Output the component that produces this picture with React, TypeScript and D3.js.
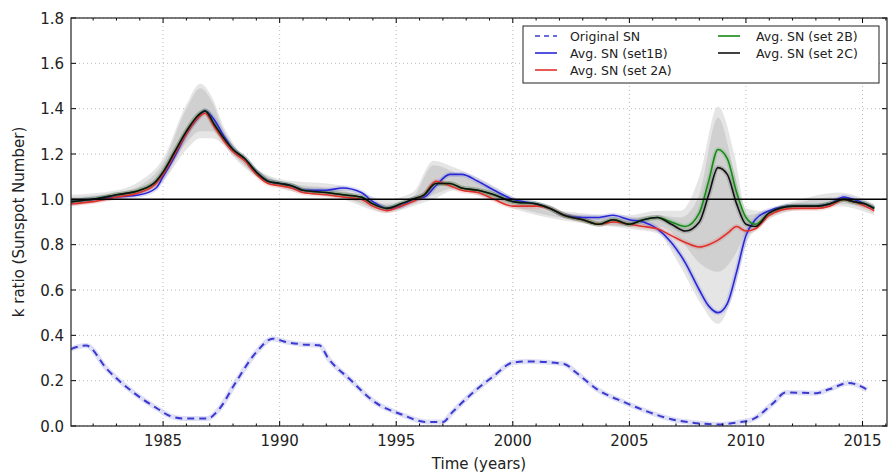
import React from 'react';
import * as d3 from 'd3';

// years shared by the averaged series
const years = [1981.05, 1982, 1983, 1984, 1984.7, 1985, 1985.5, 1986, 1986.5, 1986.8, 1987.2, 1987.6, 1988, 1988.5, 1989, 1989.5, 1990, 1990.5, 1991, 1992, 1992.7, 1993.5, 1994, 1994.6, 1995.2, 1995.7, 1996.2, 1996.7, 1997.3, 1997.8, 1998.5, 1999.2, 2000, 2001, 2001.6, 2002.2, 2003, 2003.7, 2004.3, 2005, 2005.6, 2006.2, 2006.8, 2007.4, 2008, 2008.4, 2008.8, 2009.2, 2009.6, 2010, 2010.4, 2011, 2012, 2013, 2013.6, 2014.2, 2014.6, 2015.1, 2015.5];

const set1B = [0.99, 1.0, 1.01, 1.02, 1.05, 1.1, 1.19, 1.29, 1.36, 1.39, 1.35, 1.28, 1.22, 1.18, 1.12, 1.08, 1.07, 1.06, 1.04, 1.04, 1.05, 1.03, 0.99, 0.96, 0.97, 1.0, 1.01, 1.06, 1.11, 1.11, 1.08, 1.04, 1.0, 0.98, 0.96, 0.93, 0.92, 0.92, 0.93, 0.91, 0.9, 0.87, 0.81, 0.72, 0.6, 0.53, 0.5, 0.54, 0.68, 0.84, 0.91, 0.95, 0.97, 0.97, 0.98, 1.01, 1.0, 0.98, 0.96];
const set2A = [0.98, 0.99, 1.01, 1.03, 1.07, 1.11, 1.2, 1.29, 1.36, 1.38, 1.32, 1.26, 1.21, 1.17, 1.11, 1.07, 1.06, 1.05, 1.03, 1.02, 1.01, 1.0, 0.97, 0.95, 0.97, 0.99, 1.02, 1.08, 1.06, 1.04, 1.03, 1.0, 0.97, 0.97, 0.96, 0.93, 0.91, 0.89, 0.9, 0.89, 0.88, 0.87, 0.84, 0.81, 0.79, 0.8, 0.82, 0.85, 0.88, 0.86, 0.87, 0.93, 0.96, 0.96, 0.97, 1.0, 0.99, 0.97, 0.95];
const set2B = [0.99, 1.0, 1.02, 1.04, 1.08, 1.12, 1.21, 1.3, 1.37, 1.39, 1.33, 1.27, 1.22, 1.18, 1.12, 1.08, 1.07, 1.06, 1.04, 1.03, 1.02, 1.01, 0.98, 0.96, 0.98, 1.0, 1.02, 1.07, 1.07, 1.05, 1.04, 1.02, 0.99, 0.98, 0.96, 0.93, 0.91, 0.89, 0.91, 0.89, 0.91, 0.92, 0.9, 0.88, 0.94, 1.08, 1.22, 1.18, 1.03, 0.92, 0.89, 0.94, 0.97, 0.97, 0.98, 1.0, 0.99, 0.98, 0.96];
const set2C = [0.99, 1.0, 1.02, 1.04, 1.08, 1.12, 1.21, 1.3, 1.37, 1.39, 1.33, 1.27, 1.22, 1.18, 1.12, 1.08, 1.07, 1.06, 1.04, 1.03, 1.02, 1.01, 0.98, 0.96, 0.98, 1.0, 1.02, 1.07, 1.07, 1.05, 1.04, 1.02, 0.99, 0.98, 0.96, 0.93, 0.91, 0.89, 0.91, 0.89, 0.91, 0.92, 0.89, 0.86, 0.9, 1.02, 1.14, 1.11, 0.98, 0.89, 0.88, 0.94, 0.97, 0.97, 0.98, 1.0, 0.99, 0.98, 0.96];

// spread of the ensemble (grey shading)
const bandYears = [1981.05, 1983, 1984, 1985, 1986, 1986.6, 1987.1, 1987.6, 1988, 1990, 1992.7, 1994.6, 1995.7, 1996.6, 1997.5, 1999, 2000, 2002, 2005, 2006.2, 2007.2, 2008, 2008.8, 2009.5, 2010, 2010.6, 2012, 2014, 2015.5];
const outerLow = [0.97, 1.0, 1.02, 1.08, 1.22, 1.27, 1.27, 1.24, 1.19, 1.05, 1.0, 0.94, 0.97, 1.0, 1.04, 1.0, 0.96, 0.91, 0.87, 0.85, 0.7, 0.55, 0.45, 0.6, 0.8, 0.88, 0.95, 0.97, 0.93];
const outerHigh = [1.02, 1.04, 1.08, 1.18, 1.42, 1.51, 1.45, 1.32, 1.25, 1.09, 1.06, 1.0, 1.03, 1.17, 1.14, 1.07, 1.01, 0.95, 0.93, 0.95, 0.95, 1.1, 1.41, 1.2, 0.96, 0.95, 0.99, 1.03, 0.98];
const innerLow = [0.98, 1.01, 1.03, 1.1, 1.25, 1.3, 1.3, 1.25, 1.2, 1.06, 1.01, 0.95, 0.98, 1.02, 1.05, 1.01, 0.97, 0.92, 0.88, 0.88, 0.82, 0.72, 0.68, 0.75, 0.85, 0.9, 0.96, 0.98, 0.95];
const innerHigh = [1.01, 1.03, 1.06, 1.16, 1.4, 1.49, 1.43, 1.3, 1.24, 1.08, 1.04, 0.98, 1.01, 1.15, 1.12, 1.05, 1.0, 0.94, 0.92, 0.93, 0.92, 1.02, 1.36, 1.12, 0.93, 0.94, 0.98, 1.01, 0.97];

// original sunspot number (scaled)
const snYears = [1981.05, 1981.7, 1982.6, 1983.7, 1984.8, 1985.3, 1985.9, 1986.9, 1987.4, 1988.1, 1989.0, 1989.7, 1990.3, 1991.0, 1991.7, 1992.1, 1993.0, 1994.1, 1995.2, 1996.3, 1997.0, 1997.4, 1998.3, 1999.2, 2000.0, 2000.7, 2002.2, 2002.7, 2003.6, 2004.8, 2005.9, 2006.8, 2007.7, 2008.8, 2009.6, 2010.3, 2011.2, 2011.7, 2013.0, 2013.6, 2014.4, 2015.2];
const snValues = [0.34, 0.355, 0.25, 0.15, 0.074, 0.044, 0.033, 0.033, 0.074, 0.19, 0.326, 0.385, 0.37, 0.36, 0.356, 0.296, 0.207, 0.104, 0.052, 0.018, 0.018, 0.06, 0.148, 0.222, 0.28, 0.285, 0.274, 0.237, 0.163, 0.104, 0.059, 0.03, 0.015, 0.007, 0.015, 0.03, 0.104, 0.148, 0.145, 0.163, 0.19, 0.16];

const xTicks = [1985, 1990, 1995, 2000, 2005, 2010, 2015];
const yTicks = [0.0, 0.2, 0.4, 0.6, 0.8, 1.0, 1.2, 1.4, 1.6, 1.8];

const series = [
  { name: 'Avg. SN (set1B)', values: set1B, color: '#2727d8' },
  { name: 'Avg. SN (set 2A)', values: set2A, color: '#e0302a' },
  { name: 'Avg. SN (set 2B)', values: set2B, color: '#168a16' },
  { name: 'Avg. SN (set 2C)', values: set2C, color: '#111111' },
];

const W = 895, H = 474;
const left = 71, right = 887, top = 18, bottom = 426;
const font = 'DejaVu Sans, sans-serif';

export default function App() {
  const x = d3.scaleLinear().domain([1981.05, 2016.05]).range([left, right]);
  const y = d3.scaleLinear().domain([0, 1.8]).range([bottom, top]);

  const line = d3.line<number>().curve(d3.curveMonotoneX);
  const mkLine = (xs: number[], vs: number[]) =>
    line.x((_, i) => x(xs[i])).y(v => y(v))(vs) || '';
  const mkArea = (lo: number[], hi: number[]) =>
    d3.area<number>()
      .curve(d3.curveMonotoneX)
      .x((_, i) => x(bandYears[i]))
      .y0((_, i) => y(lo[i]))
      .y1(v => y(v))(hi) || '';

  const minorYears = d3.range(1982, 2017);

  const legend = [
    { name: 'Original SN', color: '#3a3ad0', dash: '5,4', col: 0, row: 0 },
    { name: 'Avg. SN (set1B)', color: series[0].color, col: 0, row: 1 },
    { name: 'Avg. SN (set 2A)', color: series[1].color, col: 0, row: 2 },
    { name: 'Avg. SN (set 2B)', color: series[2].color, col: 1, row: 0 },
    { name: 'Avg. SN (set 2C)', color: series[3].color, col: 1, row: 1 },
  ];

  return (
    <div style={{ position: 'fixed', left: 0, top: 0, background: '#fff' }}>
      <svg width={W} height={H} style={{ display: 'block', fontFamily: font }}>
        <rect width={W} height={H} fill="#fff" />
        <defs>
          <clipPath id="plot">
            <rect x={left} y={top} width={right - left} height={bottom - top} />
          </clipPath>
        </defs>

        {/* grid */}
        {xTicks.map(t => (
          <line key={'gx' + t} x1={x(t)} x2={x(t)} y1={top} y2={bottom} stroke="#bbb" strokeDasharray="1,3" />
        ))}
        {yTicks.map(t => (
          <line key={'gy' + t} x1={left} x2={right} y1={y(t)} y2={y(t)} stroke="#bbb" strokeDasharray="1,3" />
        ))}

        <g clipPath="url(#plot)">
          <path d={mkArea(outerLow, outerHigh)} fill="#e2e2e2" opacity={0.9} />
          <path d={mkArea(innerLow, innerHigh)} fill="#c8c8c8" opacity={0.7} />

          <path d={mkLine(snYears, snValues)} fill="none" stroke="#c8c8f0" strokeWidth={5} opacity={0.6} />
          <path d={mkLine(snYears, snValues)} fill="none" stroke="#3a3ad0" strokeWidth={2} strokeDasharray="7,5" />

          {series.map(s => (
            <path key={s.name + 'h'} d={mkLine(years, s.values)} fill="none" stroke={s.color} strokeWidth={5} opacity={0.15} />
          ))}
          {series.map(s => (
            <path key={s.name} d={mkLine(years, s.values)} fill="none" stroke={s.color} strokeWidth={1.6} />
          ))}

          <line x1={left} x2={right} y1={y(1)} y2={y(1)} stroke="#000" strokeWidth={1.5} />
        </g>

        {/* ticks */}
        {xTicks.map(t => (
          <g key={'tx' + t}>
            <line x1={x(t)} x2={x(t)} y1={bottom} y2={bottom - 5} stroke="#000" />
            <line x1={x(t)} x2={x(t)} y1={top} y2={top + 5} stroke="#000" />
            <text x={x(t)} y={446} fontSize={15} textAnchor="middle" fill="#222">{t}</text>
          </g>
        ))}
        {minorYears.filter(t => t % 5 !== 0).map(t => (
          <g key={'mx' + t}>
            <line x1={x(t)} x2={x(t)} y1={bottom} y2={bottom - 2.5} stroke="#000" />
            <line x1={x(t)} x2={x(t)} y1={top} y2={top + 2.5} stroke="#000" />
          </g>
        ))}
        {yTicks.map(t => (
          <g key={'ty' + t}>
            <line x1={left} x2={left + 5} y1={y(t)} y2={y(t)} stroke="#000" />
            <line x1={right} x2={right - 5} y1={y(t)} y2={y(t)} stroke="#000" />
            <text x={64} y={y(t) + 5.5} fontSize={15} textAnchor="end" fill="#222">{t.toFixed(1)}</text>
          </g>
        ))}

        <rect x={left} y={top} width={right - left} height={bottom - top} fill="none" stroke="#222" strokeWidth={1.2} />

        <text x={(left + right) / 2} y={469} fontSize={15} textAnchor="middle" fill="#222">Time (years)</text>
        <text transform={`translate(24,${(top + bottom) / 2}) rotate(-90)`} fontSize={15} textAnchor="middle" fill="#222">k ratio (Sunspot Number)</text>

        {/* legend */}
        <rect x={523} y={26} width={356} height={57} fill="#fff" stroke="#222" strokeWidth={1} />
        {legend.map(l => {
          const lx = l.col === 0 ? 535 : 718;
          const ly = 36 + l.row * 17;
          return (
            <g key={l.name}>
              <line x1={lx} x2={lx + 22} y1={ly} y2={ly} stroke={l.color} strokeWidth={1.6} strokeDasharray={l.dash} />
              <text x={lx + (l.col === 0 ? 35 : 38)} y={ly + 4.5} fontSize={12.5} fill="#222">{l.name}</text>
            </g>
          );
        })}
      </svg>
    </div>
  );
}
